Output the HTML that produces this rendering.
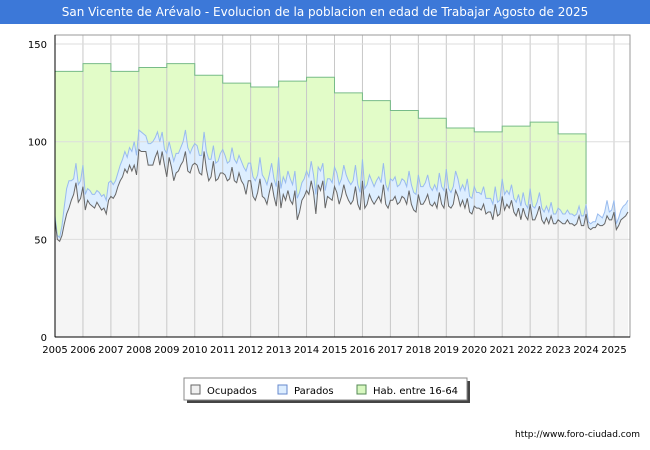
<!DOCTYPE html>
<html><head><meta charset="utf-8"><style>
body{margin:0;width:650px;height:450px;background:#fff;font-family:"DejaVu Sans","Liberation Sans",sans-serif;overflow:hidden}
#title{position:absolute;left:0;top:0;width:650px;height:24px;background:#3c78d8;color:#fff;font-size:12px;line-height:24px;text-align:center}
svg{position:absolute;left:0;top:0;font-family:"DejaVu Sans","Liberation Sans",sans-serif}
</style></head><body>
<div id="title">San Vicente de Arévalo - Evolucion de la poblacion en edad de Trabajar Agosto de 2025</div>
<svg id="c" width="650" height="450"></svg>
<script>
const years=[2005,2006,2007,2008,2009,2010,2011,2012,2013,2014,2015,2016,2017,2018,2019,2020,2021,2022,2023,2024,2025];
const habYears=[2005,2006,2007,2008,2009,2010,2011,2012,2013,2014,2015,2016,2017,2018,2019,2020,2021,2022,2023];
const hab=[136,140,136,138,140,134,130,128,131,133,125,121,116,112,107,105,108,110,104];
const ocupados=[
60,50,49,52,58,63,66,70,73,79,69,71,
77,65,70,68,67,66,69,67,65,66,63,70,
72,71,73,77,80,82,86,84,88,85,88,83,
96,95,95,95,88,88,88,92,95,88,95,88,
82,92,87,80,84,85,88,90,95,85,84,88,
89,88,84,83,95,86,80,82,90,80,81,84,
84,83,80,81,87,80,79,84,80,78,73,80,
80,72,70,74,81,72,71,68,74,79,72,67,
80,66,73,70,75,70,68,75,60,64,70,72,
75,73,80,74,63,78,75,80,66,72,71,70,
77,74,68,72,78,73,70,68,70,77,68,65,
80,66,68,73,70,68,70,72,69,78,68,66,
70,70,72,68,69,72,71,68,75,68,65,64,
73,68,68,70,73,68,67,69,66,74,68,66,
76,67,66,68,75,72,67,70,66,71,64,63,
67,66,66,65,68,63,64,64,60,68,62,63,
72,65,68,66,70,64,62,66,60,66,62,60,
68,60,60,63,67,60,58,61,58,62,58,58,
60,59,58,58,60,58,58,57,58,62,57,57,
63,56,55,56,56,58,57,57,58,62,60,60,
64,55,57,60,61,62,64];
const parados=[
2,2,2,5,9,13,14,10,8,10,9,9,
11,8,6,7,6,7,6,7,7,7,7,9,
8,7,7,7,8,9,9,8,9,10,12,10,
10,10,9,8,11,11,12,10,10,12,10,8,
12,8,8,10,10,9,9,10,11,12,10,9,
10,10,9,10,10,9,11,9,8,9,9,10,
12,10,9,9,10,11,10,9,10,9,12,9,
9,10,10,9,11,11,10,10,9,10,9,10,
12,10,9,9,10,11,10,10,11,10,9,9,
10,9,10,9,10,9,10,9,9,9,10,9,
10,10,10,9,10,10,10,10,10,11,10,9,
11,10,10,10,10,9,10,10,10,11,10,9,
11,10,10,9,9,9,9,9,10,10,9,9,
10,9,9,9,10,9,8,9,9,10,9,9,
10,9,8,9,10,9,8,8,9,10,8,8,
10,8,8,8,9,8,7,7,8,9,7,7,
9,8,7,7,8,7,7,7,7,8,6,6,
8,7,6,6,7,6,6,6,6,7,5,5,
6,6,5,5,5,5,5,5,5,5,5,5,
5,3,3,3,3,5,5,4,6,8,4,5,
6,3,4,5,6,6,6];
const yTicks=[0,50,100,150];
const X0=55,X1=630,Y0=337;
const xs=t=>X0+(t-2005)*(614-55)/20;
const ys=v=>Y0-v*1.953;
const svg=document.getElementById('c');
const NS='http://www.w3.org/2000/svg';
function mk(tag,attrs,parent){const e=document.createElementNS(NS,tag);for(const k in attrs)e.setAttribute(k,attrs[k]);(parent||svg).appendChild(e);return e;}
const bg=mk('rect',{x:X0,y:35,width:X1-X0,height:Y0-35,fill:'#fff',stroke:'none'});


let gp=[];
habYears.forEach((y,i)=>{gp.push([xs(y),ys(hab[i])]);gp.push([xs(y+1),ys(hab[i])]);});
const lastT=2024;
const gpoly=mk('polygon',{points:gp.map(p=>p.join(',')).join(' ')+' '+xs(lastT)+','+ys(ocupados[228]+parados[228])+' '+xs(lastT)+','+Y0+' '+X0+','+Y0,fill:'#e2fcc8'});


const tot=ocupados.map((v,i)=>v+parados[i]);
const mt=i=>2005+i/12;
const totPts=tot.map((v,i)=>xs(mt(i))+','+ys(v)).join(' ');
const ocPts=ocupados.map((v,i)=>xs(mt(i))+','+ys(v)).join(' ');
const endX=xs(mt(tot.length-1));
const ba=mk('polygon',{points:totPts+' '+endX+','+Y0+' '+X0+','+Y0,fill:'#ddeeff'});


const oa=mk('polygon',{points:ocPts+' '+endX+','+Y0+' '+X0+','+Y0,fill:'#f5f5f5'});


years.forEach(y=>{const l=mk('line',{x1:xs(y),x2:xs(y),y1:35,y2:Y0,stroke:'#c8c8c8','stroke-width':1});

});
yTicks.forEach(v=>{const l=mk('line',{x1:X0,x2:X1,y1:ys(v),y2:ys(v),stroke:'#dddddd','stroke-width':1});

});
const hl=mk('polyline',{points:gp.map(p=>p.join(',')).join(' ')+' '+xs(lastT)+','+ys(tot[228]),fill:'none',stroke:'#77bb88','stroke-width':1});


const tl=mk('polyline',{points:totPts,fill:'none',stroke:'#99bbee','stroke-width':1});


const ol=mk('polyline',{points:ocPts,fill:'none',stroke:'#666','stroke-width':1});


const fr=mk('rect',{x:X0,y:35,width:X1-X0,height:Y0-35,fill:'none',stroke:'#999','stroke-width':1});


mk('line',{x1:X0,x2:X0,y1:35,y2:Y0,stroke:'#000'});
mk('line',{x1:X0,x2:X1,y1:Y0,y2:Y0,stroke:'#000'});
yTicks.forEach(v=>{const t=mk('text',{x:47,y:ys(v)+4,'text-anchor':'end','font-size':10,fill:'#000'});t.textContent=v;

});
years.forEach(y=>{const t=mk('text',{x:xs(y),y:Y0+16,'text-anchor':'middle','font-size':10,fill:'#000'});t.textContent=y;

});
const lg=mk('g',{});


mk('rect',{x:187,y:381,width:283,height:22,fill:'#444'},lg);
mk('rect',{x:184,y:378,width:283,height:22,fill:'#fff',stroke:'#888'},lg);
const items=[['Ocupados','#f0f0f0','#666',191],['Parados','#ddeeff','#6688cc',278],['Hab. entre 16-64','#d8f8c0','#558855',357]];
items.forEach(it=>{const g=mk('g',{},lg);


mk('rect',{x:it[3],y:385,width:9,height:9,fill:it[1],stroke:it[2]},g);
const t=mk('text',{x:it[3]+16,y:394,'font-size':10,fill:'#000'},g);t.textContent=it[0];});
const u=mk('text',{x:640,y:437,'text-anchor':'end','font-size':9,fill:'#000'});u.textContent='http://www.foro-ciudad.com';


</script>
</body></html>
